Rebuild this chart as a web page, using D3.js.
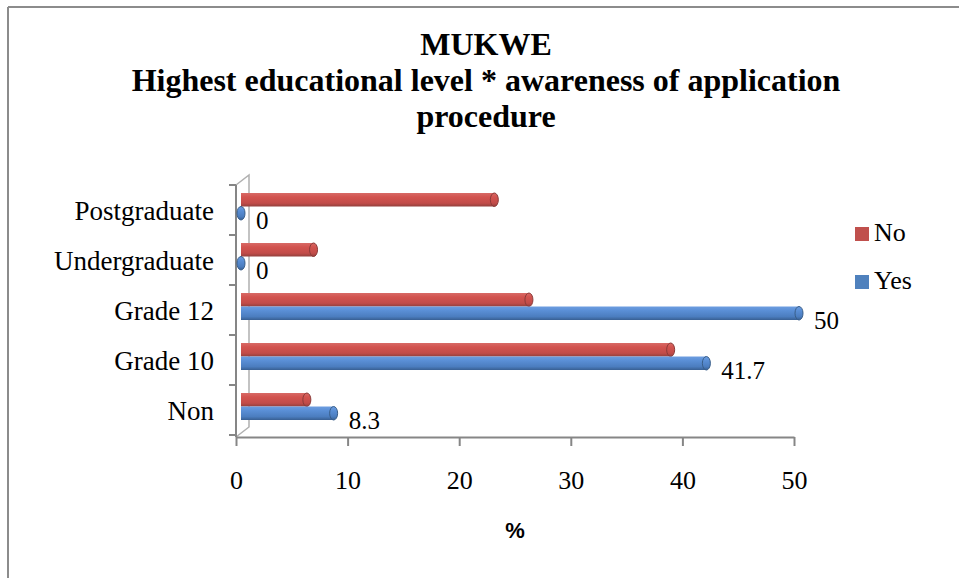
<!DOCTYPE html>
<html>
<head>
<meta charset="utf-8">
<script src="https://cdn.jsdelivr.net/npm/d3@7"></script>
<style>
  body { margin: 0; background: #fff; }
  svg { display: block; }
  text { font-family: "Liberation Serif", "Times New Roman", serif; fill: #000; }
</style>
</head>
<body>
<div class="container"></div>
<script>
// chart data
var categories = ["Non", "Grade 10", "Grade 12", "Undergraduate", "Postgraduate"];
var seriesNames = ["No", "Yes"];
var noValues = [5.9, 38.5, 25.8, 6.5, 22.7];
var yesValues = [8.3, 41.7, 50, 0, 0];
var xTicks = [0, 10, 20, 30, 40, 50];
var titleLines = ["MUKWE", "Highest educational level * awareness of application", "procedure"];

var width = 959;
var height = 578;
var serif = '"Liberation Serif", "Times New Roman", serif';

var colors = { No: "#c0504d", Yes: "#4f81bd" };
var axisColor = "#868686";

var svg = d3.select(".container").append("svg")
    .attr("width", width)
    .attr("height", height);

// gradients for the cylinder look
var defs = svg.append("defs");
var grads = {
  No: ["#d86a66", "#d2534f", "#c24c49", "#93403d"],
  Yes: ["#6d9de0", "#5a8fd6", "#4b7dbf", "#385f92"]
};
seriesNames.forEach(function(s) {
  var g = defs.append("linearGradient")
      .attr("id", "grad" + s)
      .attr("x1", 0).attr("y1", 0).attr("x2", 0).attr("y2", 1);
  [0, 0.3, 0.75, 1].forEach(function(o, i) {
    g.append("stop").attr("offset", o).attr("stop-color", grads[s][i]);
  });
});

// outer frame (only top and left edges visible)
svg.append("line").attr("x1", 8).attr("y1", 7).attr("x2", width).attr("y2", 7)
    .attr("stroke", "#8c8c8c").attr("stroke-width", 2);
svg.append("line").attr("x1", 8).attr("y1", 7).attr("x2", 8).attr("y2", height)
    .attr("stroke", "#8c8c8c").attr("stroke-width", 2);

// title
svg.append("g").selectAll("text").data(titleLines)
  .enter().append("text")
    .attr("x", 486)
    .attr("y", function(d, i) { return 55 + i * 36; })
    .attr("text-anchor", "middle")
    .style("font-family", serif)
    .style("font-size", "32px")
    .style("font-weight", "bold")
    .text(function(d) { return d; });

// scales
var x = d3.scaleLinear().domain([0, 50]).range([236, 794]);

var y = d3.scaleBand()
    .domain(categories.slice().reverse())
    .range([185, 435])
    .paddingInner(0.46)
    .paddingOuter(0.23);

var ySeries = d3.scaleBand().domain(seriesNames).range([0, y.bandwidth()]);

// depth offsets
var barDx = 5, barDy = -3.5;
var wallDx = 13, wallDy = -10;

// side wall
var wall = svg.append("g").attr("stroke", "#b0b0b0").attr("fill", "none").attr("stroke-width", 1.5);
wall.append("polyline")
    .attr("points", [
      [x(0), 185], [x(0) + wallDx, 185 + wallDy],
      [x(0) + wallDx, 437 + wallDy], [x(0), 437]
    ].map(function(p) { return p.join(","); }).join(" "));

// x axis
var xAxis = svg.append("g")
    .attr("transform", "translate(0,437)")
    .call(d3.axisBottom(x).tickValues(xTicks).tickSize(9).tickSizeOuter(0).tickPadding(30));
xAxis.select(".domain").attr("stroke", axisColor).attr("stroke-width", 2);
xAxis.selectAll(".tick line").attr("stroke", axisColor).attr("stroke-width", 2);
xAxis.selectAll(".tick text")
    .style("font-family", serif)
    .style("font-size", "26px")
    .attr("fill", "#000")
    .attr("dy", "0.5em");

// y axis line and ticks at band boundaries
var yAxisG = svg.append("g").attr("stroke", axisColor).attr("stroke-width", 2);
yAxisG.append("line")
    .attr("x1", x(0)).attr("x2", x(0))
    .attr("y1", y.range()[0]).attr("y2", 437);
var boundaries = d3.range(categories.length + 1).map(function(i) {
  return y.range()[0] + i * y.step();
});
yAxisG.selectAll(".ytick").data(boundaries)
  .enter().append("line")
    .attr("class", "ytick")
    .attr("x1", x(0) - 7).attr("x2", x(0))
    .attr("y1", function(d) { return d; })
    .attr("y2", function(d) { return d; });

// category labels
svg.append("g").selectAll("text").data(categories)
  .enter().append("text")
    .attr("x", 214)
    .attr("y", function(d) { return y(d) + y.bandwidth() / 2 + 1; })
    .attr("dy", "0.35em")
    .attr("text-anchor", "end")
    .style("font-size", "27px")
    .text(function(d) { return d; });

// bars
var rows = [];
categories.forEach(function(c, i) {
  rows.push({ cat: c, series: "No", value: noValues[i] });
  rows.push({ cat: c, series: "Yes", value: yesValues[i] });
});

var barG = svg.append("g").attr("transform", "translate(" + barDx + "," + barDy + ")");
var bar = barG.selectAll("g.bar").data(rows)
  .enter().append("g")
    .attr("class", "bar");

var capRx = 4;
bar.append("rect")
    .attr("x", x(0))
    .attr("y", function(d) { return y(d.cat) + ySeries(d.series); })
    .attr("width", function(d) { return x(d.value) - x(0); })
    .attr("height", ySeries.bandwidth())
    .attr("fill", function(d) { return "url(#grad" + d.series + ")"; });

bar.append("ellipse")
    .attr("cx", function(d) { return x(d.value); })
    .attr("cy", function(d) { return y(d.cat) + ySeries(d.series) + ySeries.bandwidth() / 2; })
    .attr("rx", capRx)
    .attr("ry", ySeries.bandwidth() / 2)
    .attr("fill", function(d) { return "url(#grad" + d.series + ")"; })
    .attr("stroke", function(d) { return d3.color(colors[d.series]).darker(0.9); })
    .attr("stroke-width", 1);

// data labels for Yes series
barG.selectAll("text.value").data(rows.filter(function(d) { return d.series === "Yes"; }))
  .enter().append("text")
    .attr("class", "value")
    .attr("x", function(d) { return x(d.value) + capRx + 11; })
    .attr("y", function(d) { return y(d.cat) + ySeries(d.series) + ySeries.bandwidth() / 2; })
    .attr("dy", "0.62em")
    .style("font-size", "25px")
    .text(function(d) { return d.value; });

// axis title
svg.append("text")
    .attr("x", 515)
    .attr("y", 538)
    .attr("text-anchor", "middle")
    .style("font-family", '"Liberation Sans", Arial, sans-serif')
    .style("font-size", "22px")
    .style("font-weight", "bold")
    .text("%");

// legend
var legend = svg.append("g").selectAll("g").data(seriesNames)
  .enter().append("g")
    .attr("transform", function(d, i) { return "translate(855," + (227 + i * 48) + ")"; });
legend.append("rect")
    .attr("width", 14).attr("height", 14)
    .attr("fill", function(d) { return colors[d]; });
legend.append("text")
    .attr("x", 19)
    .attr("y", 14)
    .style("font-size", "26px")
    .text(function(d) { return d; });
</script>
</body>
</html>
